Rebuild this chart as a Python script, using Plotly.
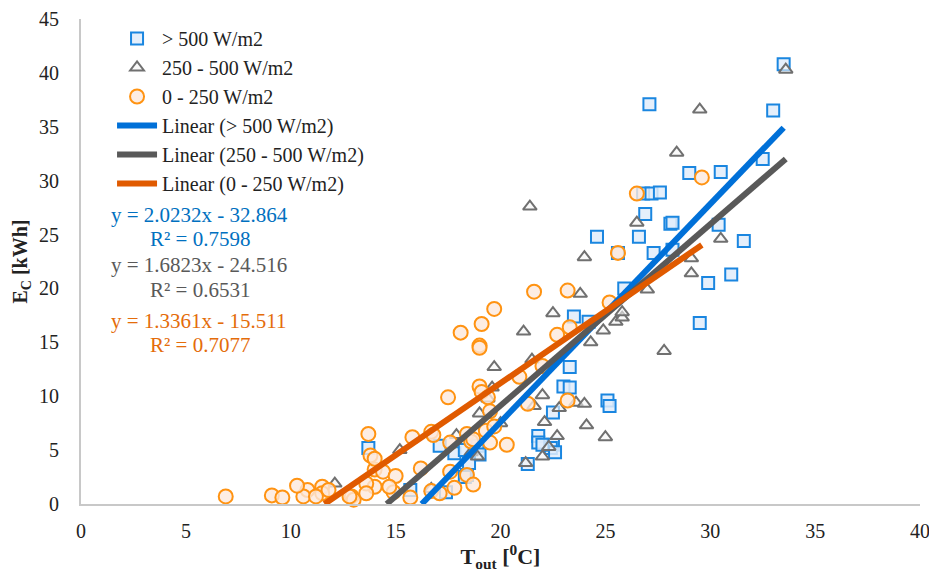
import plotly.graph_objects as go

# ---------------- data ----------------
# > 500 W/m2 (blue squares)
hi_x = [33.5, 33.0, 27.1, 32.5, 29.0, 30.5, 26.8, 27.2, 27.6, 26.9, 28.1, 28.2, 30.4, 24.6,
        26.6, 31.6, 25.6, 27.3, 28.2, 31.0, 29.9, 29.5, 25.9, 23.5, 24.2, 23.3, 23.0, 23.3,
        25.1, 25.2, 22.5, 22.5, 22.4, 22.6, 21.8, 21.8, 22.0, 21.3, 17.1, 17.8, 18.3, 18.9,
        19.0, 18.5, 18.4, 18.3, 15.7, 17.4, 13.7]
hi_y = [40.8, 36.5, 37.1, 32.0, 30.7, 30.8, 28.8, 28.8, 28.9, 26.9, 26.0, 26.1, 25.9, 24.8,
        24.8, 24.4, 23.3, 23.3, 23.6, 21.3, 20.5, 16.8, 20.0, 17.4, 16.9, 12.7, 10.9, 10.8,
        9.6, 9.1, 8.5, 5.5, 5.2, 4.8, 6.3, 5.7, 5.5, 3.7, 5.4, 4.7, 5.0, 5.4,
        4.6, 3.8, 2.7, 2.5, 1.3, 1.1, 5.2]

# 250 - 500 W/m2 (grey triangles)
mid_x = [33.6, 29.5, 28.4, 21.4, 26.5, 30.5, 24.0, 29.1, 29.1, 23.8, 22.5, 27.0, 25.5, 25.8,
         25.8, 24.9, 24.3, 27.8, 21.1, 19.7, 21.5, 19.6, 22.0, 21.6, 22.8, 23.6, 24.0, 19.0,
         20.0, 22.1, 24.1, 25.0, 22.7, 22.3, 17.9, 15.2, 22.0, 21.2, 18.6, 18.9, 12.1, 16.7,
         19.4]
mid_y = [40.3, 36.6, 32.6, 27.6, 26.1, 24.6, 22.9, 22.8, 21.4, 19.5, 17.7, 19.9, 16.9, 17.3,
         17.8, 16.1, 15.0, 14.2, 16.0, 12.7, 13.4, 10.8, 10.1, 9.1, 8.9, 9.4, 9.3, 8.4,
         7.5, 7.6, 7.3, 6.2, 6.3, 5.3, 6.4, 5.0, 4.4, 3.8, 4.8, 4.4, 1.9, 1.4,
         9.8]

# 0 - 250 W/m2 (orange circles)
lo_x = [29.6, 26.5, 25.6, 21.6, 23.2, 19.7, 19.1, 18.1, 22.7, 23.3, 25.2, 19.0, 19.0, 22.0,
        20.9, 19.0, 19.1, 17.5, 19.4, 21.3, 23.2, 19.5, 19.3, 19.7, 18.4, 18.6, 19.5, 20.3,
        17.6, 16.7, 16.8, 15.8, 13.7, 13.8, 14.0, 14.4, 15.0, 16.2, 17.6, 18.4, 18.7, 17.8,
        16.7, 17.1, 15.7, 14.9, 14.7, 14.0, 13.6, 13.6, 12.9, 13.0, 12.8, 11.5, 11.5, 11.8,
        10.8, 10.6, 10.3, 11.2, 9.1, 9.6, 6.9, 14.0, 18.7]
lo_y = [30.3, 28.8, 23.3, 19.7, 19.8, 18.1, 16.7, 15.9, 15.7, 16.4, 18.7, 14.7, 14.5, 12.8,
        11.8, 10.9, 10.4, 9.9, 9.9, 9.3, 9.6, 8.6, 6.8, 7.2, 6.5, 5.8, 5.7, 5.5,
        5.7, 6.7, 6.4, 6.2, 6.5, 4.5, 3.2, 3.0, 2.6, 3.3, 3.0, 2.7, 1.8, 1.5,
        1.2, 1.0, 0.6, 1.1, 1.6, 1.6, 1.9, 1.0, 0.7, 0.4, 0.7, 1.6, 1.0, 1.3,
        1.3, 0.7, 1.7, 0.7, 0.8, 0.6, 0.7, 4.2, 6.0]

series_names = ["> 500 W/m2", "250 - 500 W/m2", "0 - 250 W/m2"]
trend_names = ["Linear (> 500 W/m2)", "Linear (250 - 500 W/m2)", "Linear (0 - 250 W/m2)"]
trend_slope = [2.0232, 1.6823, 1.3361]
trend_intercept = [-32.864, -24.516, -15.511]
r_squared = [0.7598, 0.6531, 0.7077]

x_ticks = [0, 5, 10, 15, 20, 25, 30, 35, 40]
y_ticks = [0, 5, 10, 15, 20, 25, 30, 35, 40, 45]

# ---------------- styles ----------------
FONT = "Liberation Serif, Times New Roman, serif"
marker_styles = [
    dict(symbol="square", size=12, color="rgba(225,236,250,0.85)",
         line=dict(color="#1A86E0", width=2)),
    dict(symbol="triangle-up", size=12, color="rgba(245,245,245,0.6)",
         line=dict(color="#707070", width=2)),
    dict(symbol="circle", size=14, color="rgba(253,232,220,0.8)",
         line=dict(color="#FF9312", width=2)),
]
line_colors = ["#0070D8", "#595959", "#E05A00"]
eq_colors = ["#0070C0", "#595959", "#E46C0A"]

xs = [hi_x, mid_x, lo_x]
ys = [hi_y, mid_y, lo_y]

fig = go.Figure()
for i in range(3):
    fig.add_trace(go.Scatter(
        x=xs[i], y=ys[i], mode="markers", name=series_names[i],
        marker=marker_styles[i], legendgroup=f"g{i}", cliponaxis=False))

for i in range(3):
    x0 = max(min(xs[i]), -trend_intercept[i] / trend_slope[i])
    x1 = max(xs[i])
    lx = [x0, x1]
    ly = [trend_slope[i] * v + trend_intercept[i] for v in lx]
    fig.add_trace(go.Scatter(
        x=lx, y=ly, mode="lines", name=trend_names[i],
        line=dict(color=line_colors[i], width=6), legendgroup=f"t{i}"))

# equations
eq_pos = [(1.35, 26.8, 3.2, 24.55), (1.35, 22.15, 3.2, 19.85), (1.35, 17.0, 3.2, 14.75)]
for i in range(3):
    ex, ey, rx, ry = eq_pos[i]
    fig.add_annotation(x=ex, y=ey, xref="x", yref="y", xanchor="left", yanchor="middle",
                       text=f"y = {trend_slope[i]:.4f}x - {abs(trend_intercept[i]):.3f}",
                       showarrow=False, font=dict(family=FONT, size=21, color=eq_colors[i]))
    fig.add_annotation(x=rx, y=ry, xref="x", yref="y", xanchor="left", yanchor="middle",
                       text=f"R² = {r_squared[i]:.4f}",
                       showarrow=False, font=dict(family=FONT, size=21, color=eq_colors[i]))

# page body has an 8px margin: size/offset the figure so the plot lands where the reference has it
fig.update_layout(
    width=929, height=564,
    margin=dict(l=73, r=17, t=11, b=68),
    paper_bgcolor="white", plot_bgcolor="white",
    font=dict(family=FONT, size=20, color="#222222"),
    showlegend=True,
    legend=dict(x=0.037, y=1.0, xanchor="left", yanchor="top",
                bgcolor="rgba(255,255,255,0)", font=dict(family=FONT, size=20, color="#222"),
                tracegroupgap=4, traceorder="normal", itemwidth=40),
    xaxis=dict(range=[0, 40], tickvals=x_ticks, showgrid=False, zeroline=False,
               showline=True, linecolor="#C8C8C8", linewidth=2, ticks="", automargin=False,
               tickfont=dict(family=FONT, size=20, color="#222"), ticklabelstandoff=8,
               title=dict(text="<b>T<sub>out</sub> [<sup>0</sup>C]</b>",
                          font=dict(family=FONT, size=22, color="#222"), standoff=3)),
    yaxis=dict(range=[0, 45], tickvals=y_ticks, showgrid=False, zeroline=False,
               showline=True, linecolor="#C8C8C8", linewidth=2, ticks="", automargin=False,
               tickfont=dict(family=FONT, size=20, color="#222"), ticklabelstandoff=16,
               title=dict(text="<b>E<sub>C</sub> [kWh]</b>",
                          font=dict(family=FONT, size=20, color="#222"), standoff=6)),
)

fig.write_html("out.html")
